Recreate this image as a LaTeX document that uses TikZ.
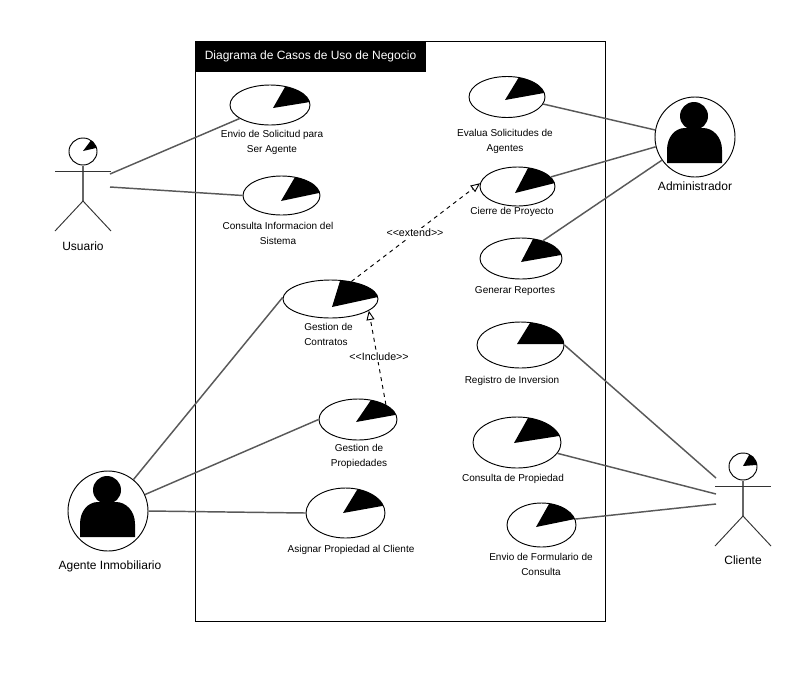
\documentclass[tikz,border=0pt]{standalone}
\usepackage{fontspec}
\setmainfont{Liberation Sans}
\usetikzlibrary{calc,shapes.geometric,arrows.meta}

\tikzset{
  usecase/.style={ellipse, draw=black, line width=0.7pt, inner sep=0pt},
  lbl/.style={font=\fontsize{7.5}{11.25}\selectfont, align=center, inner sep=0pt},
  deplbl/.style={font=\fontsize{8}{10}\selectfont, fill=white, inner sep=1pt},
  actorlbl/.style={font=\fontsize{9}{11}\selectfont, inner sep=0pt},
  assoc/.style={draw=black!65, line width=1.1pt},
  depend/.style={black, line width=0.7pt, dashed, -{Triangle[open, length=7pt, width=6pt]}},
  limb/.style={black!80, line width=0.7pt},
}

% name, centre, x radius, y radius, pie centre, ray 1, ray 2
\newcommand{\usecasepie}[7]{
  \begin{scope}
    \clip (#2) ellipse [x radius=#3*0.75pt, y radius=#4*0.75pt];
    \fill ($(#5)!3!(#6)$) -- (#5) -- ($(#5)!3!(#7)$) -- ($(#5)!3!(#6)+(#5)!3!(#7)-(#5)$) -- cycle;
  \end{scope}
  \node[usecase, minimum width=#3*1.5pt, minimum height=#4*1.5pt] (#1) at (#2) {};
}

% name, head x, arm y, pie centre, ray 1, ray 2
\newcommand{\stickman}[6]{
  \draw[black!60, line width=1.1pt] (#2,#3-5) -- (#2,#3+30);
  \draw[limb] (#2-28,#3) -- (#2+28,#3);
  \draw[limb] (#2-28,#3+60) -- (#2,#3+30) -- (#2+28,#3+60);
  \usecasepie{#1}{#2,#3-19.5}{14}{13.5}{#4}{#5}{#6}
}

% circle with a black person in it
\newcommand{\person}[3]{
  \node[circle, draw=black, line width=0.7pt, minimum size=60pt, inner sep=0pt] (#1) at (#2,#3) {};
  \fill (#2-1,#3-21) circle (10.5pt);
  \fill (#2-28,#3+26) -- (#2-28,#3+13) .. controls (#2-28,#3) and (#2-20,#3-9) .. (#2-10,#3-9)
    -- (#2+8,#3-9) .. controls (#2+18,#3-9) and (#2+27,#3) .. (#2+27,#3+13) -- (#2+27,#3+26) -- cycle;
}

\begin{document}
\begin{tikzpicture}[x=0.75pt,y=-0.75pt]
\useasboundingbox (0,0) rectangle (809,693);

% system box
\node[draw=black, line width=0.7pt, minimum width=307.5pt, minimum height=435pt, inner sep=0pt] (frame) at (400,331) {};
\node[fill=black, text=white, font=\fontsize{9}{11}\selectfont, minimum width=173.25pt, minimum height=23.25pt, inner sep=0pt] (title) at (310.5,56.5) {Diagrama de Casos de Uso de Negocio};

% use cases
\usecasepie{envio}{270,105}{40}{20}{273,108}{285,87}{310,102}
\usecasepie{info}{281.5,195.5}{38.5}{19.5}{281,201}{295,177}{319,193}
\usecasepie{evalua}{507,97}{38}{20.5}{505,100}{519,77}{544,93}
\usecasepie{cierre}{517.5,186.5}{37.5}{19.5}{515,193}{528,168}{555,183}
\usecasepie{generar}{521,258.5}{41}{20.5}{521,262}{533,239}{561,255}
\usecasepie{contratos}{330.5,299}{47.5}{19}{332,307}{340,281}{378,297}
\usecasepie{propiedades}{358,419.5}{39}{20.5}{356,422}{371,400}{395,415}
\usecasepie{asignar}{345.5,513}{39.5}{25}{343,513}{357,490}{382,506}
\usecasepie{registro}{520.5,345}{43.5}{23}{517,344}{530,323}{564,344}
\usecasepie{consulta}{517,442.5}{44}{25.5}{514,443}{528,418}{559,436}
\usecasepie{formulario}{541.5,525}{34.5}{22}{536,527}{549,504}{575,519}

% labels
\node[lbl] (lenvio) at (272,142.5) {Envio de Solicitud para\\Ser Agente};
\node[lbl] (linfo) at (278,233) {Consulta Informacion del\\Sistema};
\node[lbl] (levalua) at (505,141) {Evalua Solicitudes de\\Agentes};
\node[lbl] (lcierre) at (512,212) {Cierre de Proyecto};
\node[lbl] (lgenerar) at (515,291) {Generar Reportes};
\node[lbl, align=left, anchor=west] (lcontratos) at (304,334.5) {Gestion de\\Contratos};
\node[lbl] (lpropiedades) at (359,456) {Gestion de\\Propiedades};
\node[lbl] (lasignar) at (351,550) {Asignar Propiedad al Cliente};
\node[lbl] (lregistro) at (512,381) {Registro de Inversion};
\node[lbl] (lconsulta) at (513,479) {Consulta de Propiedad};
\node[lbl] (lformulario) at (541,564) {Envio de Formulario de\\Consulta};

% actors
\stickman{usuario}{83}{171}{83,151}{89,143}{96,148}
\stickman{cliente}{743}{486}{743,466}{748,457}{756,465}
\person{admin}{695}{137}
\person{agente}{108}{511}
\node[actorlbl] (lusuario) at (83,246) {Usuario};
\node[actorlbl] (lcliente) at (743,560) {Cliente};
\node[actorlbl] (ladmin) at (695,186) {Administrador};
\node[actorlbl] (lagente) at (110,566) {Agente Inmobiliario};

\coordinate (u1) at (110,174);
\coordinate (u2) at (110,187);
\coordinate (c1) at (716,478);
\coordinate (c2) at (716,494);
\coordinate (c3) at (716,504);

% connectors
\draw[assoc] (u1) -- (envio.204);
\draw[assoc] (u2) -- (info.180);
\draw[assoc] (evalua.-11) -- (admin.170);
\draw[assoc] (cierre.16) -- (admin.194);
\draw[assoc] (generar.39) -- (admin.215);
\draw[assoc] (agente.51) -- (contratos.178);
\draw[assoc] (agente.24) -- (propiedades.180);
\draw[assoc] (agente.0) -- (asignar.180);
\draw[assoc] (registro.0) -- (c1);
\draw[assoc] (consulta.-15) -- (c2);
\draw[assoc] (formulario.10) -- (c3);

\draw[depend] (contratos.40) -- (cierre.175);
\draw[depend] (propiedades.28) -- (contratos.-17);
\node[deplbl] (lextend) at (415,233) {<{}<extend>{}>};
\node[deplbl] (linclude) at (379,357) {<{}<Include>{}>};
\end{tikzpicture}
\end{document}
